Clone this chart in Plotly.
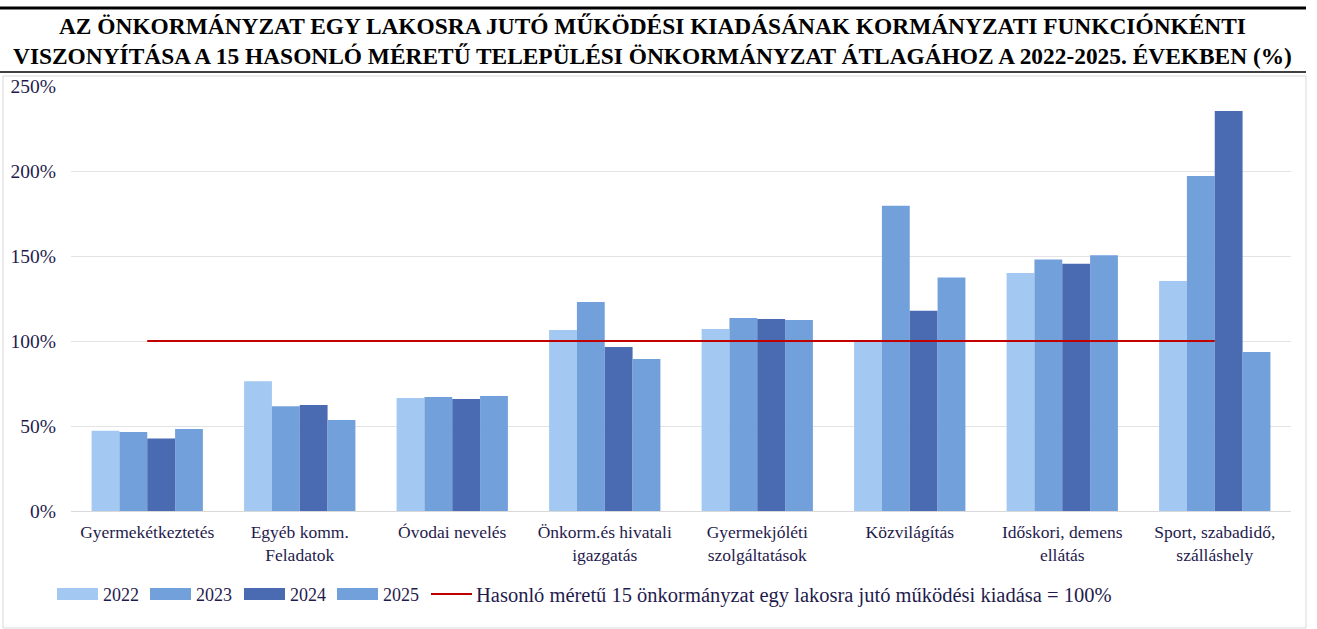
import plotly.graph_objects as go

categories = ["Gyermekétkeztetés", "Egyéb komm.<br>Feladatok", "Óvodai nevelés",
              "Önkorm.és hivatali<br>igazgatás", "Gyermekjóléti<br>szolgáltatások",
              "Közvilágítás", "Időskori, demens<br>ellátás", "Sport, szabadidő,<br>szálláshely"]
years = ["2022", "2023", "2024", "2025"]
v2022 = [47.2, 76.3, 66.5, 106.5, 107.0, 100.0, 140.0, 135.3]
v2023 = [46.5, 61.6, 67.0, 123.0, 113.5, 179.6, 148.0, 197.0]
v2024 = [42.7, 62.3, 65.9, 96.5, 113.0, 117.8, 145.5, 235.3]
v2025 = [48.2, 53.5, 67.6, 89.4, 112.3, 137.3, 150.4, 93.5]
reference = [100] * len(categories)
ref_label = "Hasonló méretű 15 önkormányzat egy lakosra jutó működési kiadása = 100%"
title_lines = ["AZ ÖNKORMÁNYZAT EGY LAKOSRA JUTÓ MŰKÖDÉSI KIADÁSÁNAK KORMÁNYZATI FUNKCIÓNKÉNTI",
               "VISZONYÍTÁSA A 15 HASONLÓ MÉRETŰ TELEPÜLÉSI ÖNKORMÁNYZAT ÁTLAGÁHOZ A 2022-2025. ÉVEKBEN (%)"]
yticks = [0, 50, 100, 150, 200, 250]

colors = ["#A3C8F2", "#72A0DB", "#4A6BB2", "#72A0DB"]
line_color = "#C00000"
font_family = "Liberation Serif"
text_color = "#1F1B4D"

fig = go.Figure()
for name, vals, c in zip(years, [v2022, v2023, v2024, v2025], colors):
    fig.add_trace(go.Bar(name=name, x=categories, y=vals, marker_color=c,
                         marker_line_width=0, showlegend=False))
fig.add_trace(go.Scatter(name=ref_label, x=categories, y=reference, mode="lines",
                         line=dict(color=line_color, width=2), showlegend=False))

L, R, T, B = 71, 1291, 86, 511
W, H = 1317, 629
def px(x):
    return (x - L) / (R - L)
def py(y):
    return (B - y) / (B - T)

shapes = [
    dict(type="line", xref="paper", yref="paper", x0=px(0), x1=px(1306), y0=py(8), y1=py(8),
         line=dict(color="black", width=3)),
    dict(type="line", xref="paper", yref="paper", x0=px(0), x1=px(1306), y0=py(72), y1=py(72),
         line=dict(color="black", width=1.5)),
    dict(type="rect", xref="paper", yref="paper", x0=px(3), x1=px(1306), y0=py(76), y1=py(628),
         line=dict(color="#D9D9D9", width=1), layer="below"),
]
annotations = [
    dict(text="<b>" + title_lines[0] + "<br>" + title_lines[1] + "</b>", xref="paper", yref="paper",
         x=px(652), y=py(41), xanchor="center", yanchor="middle", showarrow=False,
         font=dict(family=font_family, size=23.4, color="black"), align="center"),
]

# manual legend (wide swatches like the original)
leg_x = [57, 150, 244, 337]
for xs, name, c in zip(leg_x, years, colors):
    shapes.append(dict(type="rect", xref="paper", yref="paper", x0=px(xs), x1=px(xs + 41),
                       y0=py(600), y1=py(588), fillcolor=c, line=dict(width=0)))
    annotations.append(dict(text=name, xref="paper", yref="paper", x=px(xs + 44), y=py(595),
                            xanchor="left", yanchor="middle", showarrow=False,
                            font=dict(family=font_family, size=18, color=text_color)))
shapes.append(dict(type="line", xref="paper", yref="paper", x0=px(431), x1=px(472),
                   y0=py(594), y1=py(594), line=dict(color=line_color, width=2)))
annotations.append(dict(text=ref_label, xref="paper", yref="paper", x=px(474), y=py(595),
                        xanchor="left", yanchor="middle", showarrow=False,
                        font=dict(family=font_family, size=20.5, color=text_color)))

fig.update_layout(
    width=W, height=H,
    margin=dict(l=L, r=W - R, t=T, b=H - B, pad=0, autoexpand=False),
    paper_bgcolor="white", plot_bgcolor="white",
    barmode="group", bargap=0.27, bargroupgap=0,
    font=dict(family=font_family, size=17, color=text_color),
    shapes=shapes, annotations=annotations,
    showlegend=False,
)
fig.update_xaxes(showgrid=False, showline=True, linecolor="#D9D9D9", ticks="",
                 automargin=False,
                 tickfont=dict(size=17.5, family=font_family, color=text_color),
                 ticklabelstandoff=5)
fig.update_yaxes(range=[0, 250], tickvals=yticks, ticktext=[f"{v}%" for v in yticks],
                 showgrid=True, gridcolor="#E3E3E3", gridwidth=1, zeroline=False,
                 automargin=False,
                 showline=False, tickfont=dict(size=19.5, family=font_family, color=text_color),
                 ticklabelstandoff=14)

fig.write_html("out.html", post_script="document.body.style.margin='0';",
               config={"displayModeBar": False})
